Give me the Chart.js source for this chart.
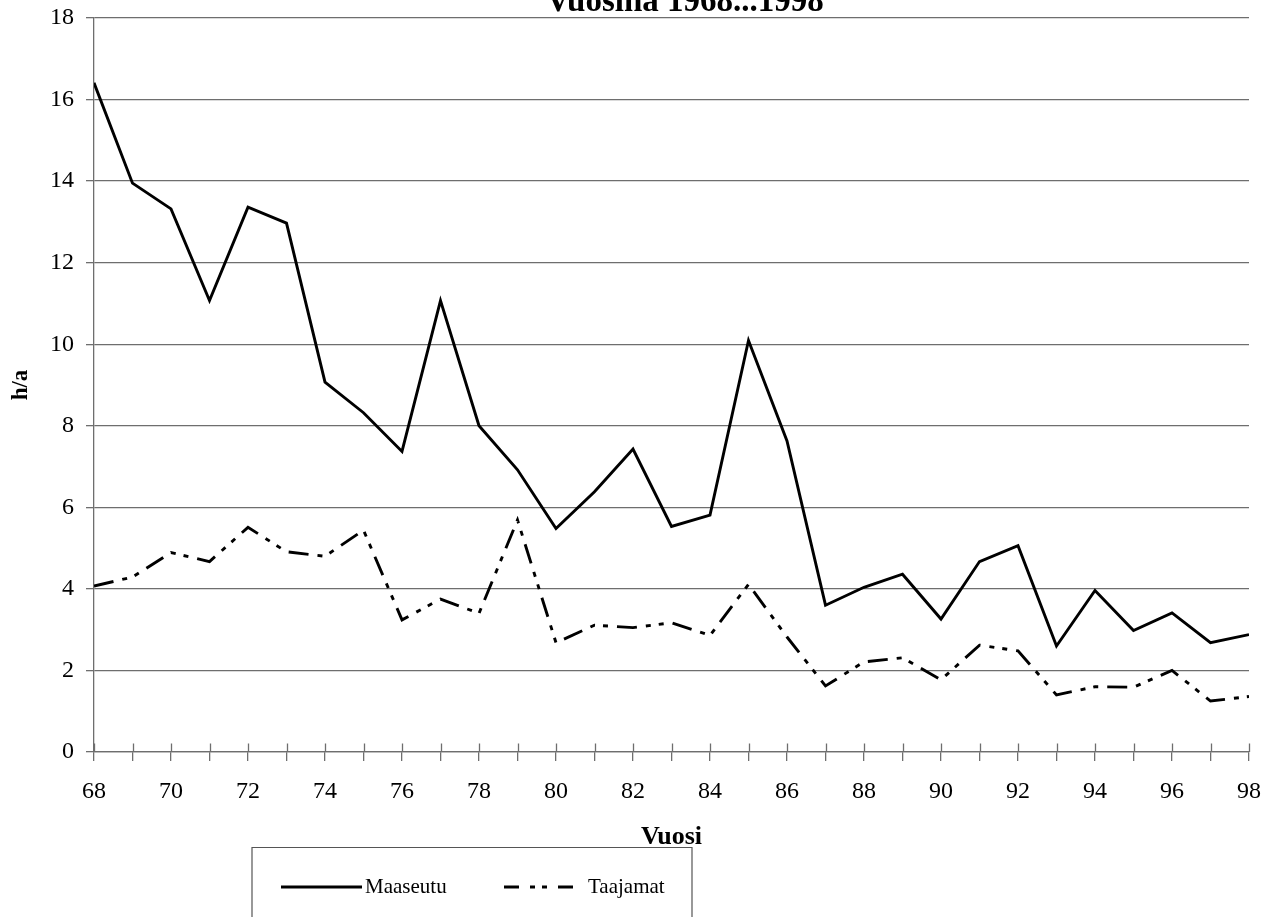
<!DOCTYPE html>
<html>
<head>
<meta charset="utf-8">
<title>Vuosina 1968...1998</title>
<script src="https://cdn.jsdelivr.net/npm/chart.js@4.4.1/dist/chart.umd.min.js"></script>
<style>
  html, body { margin: 0; padding: 0; background: #fff; overflow: hidden; }
  #myChart { display: block; }
</style>
</head>
<body>
<canvas id="myChart" width="1275" height="917"></canvas>
<script>
// years 1968..1998, shown as two digits
const years = [68, 69, 70, 71, 72, 73, 74, 75, 76, 77, 78, 79, 80, 81, 82, 83,
               84, 85, 86, 87, 88, 89, 90, 91, 92, 93, 94, 95, 96, 97, 98];
const maaseutu = [16.41, 13.95, 13.32, 11.07, 13.36, 12.97, 9.07, 8.32, 7.37, 11.07, 8.0,
                  6.92, 5.48, 6.38, 7.43, 5.53, 5.81, 10.09, 7.63, 3.6, 4.04, 4.36,
                  3.26, 4.67, 5.06, 2.6, 3.96, 2.98, 3.41, 2.68, 2.88];
const taajamat = [4.07, 4.29, 4.89, 4.67, 5.51, 4.91, 4.8, 5.44, 3.24, 3.75, 3.4,
                  5.69, 2.68, 3.11, 3.05, 3.17, 2.86, 4.11, 2.82, 1.62, 2.21, 2.31,
                  1.77, 2.62, 2.48, 1.4, 1.6, 1.59, 2.0, 1.25, 1.36];
const yTicks = [0, 2, 4, 6, 8, 10, 12, 14, 16, 18];

const FONT = "'Liberation Serif', 'Times New Roman', serif";
const GRID = '#6e6e6e';

// title, cut off at the top like in the original
const titlePlugin = {
    id: 'cutTitle',
    afterDraw(chart) {
        const ctx = chart.ctx;
        ctx.save();
        ctx.fillStyle = '#000';
        ctx.font = 'bold 33px ' + FONT;
        ctx.textAlign = 'center';
        ctx.textBaseline = 'alphabetic';
        ctx.fillText('Vuosina 1968...1998', 685, 11);
        ctx.restore();
    }
};

// x ticks cross the axis, draw the inner half
const innerTicks = {
    id: 'innerTicks',
    afterDraw(chart) {
        const ctx = chart.ctx;
        const x = chart.scales.x;
        const bottom = chart.chartArea.bottom;
        ctx.save();
        ctx.strokeStyle = GRID;
        ctx.lineWidth = 1.3;
        ctx.beginPath();
        x.ticks.forEach(t => {
            const px = Math.round(x.getPixelForValue(t.value)) + 0.5;
            ctx.moveTo(px, bottom);
            ctx.lineTo(px, bottom - 8.5);
        });
        ctx.stroke();
        ctx.restore();
    }
};

// boxed legend at the bottom, bottom edge outside the picture
const boxLegend = {
    id: 'boxLegend',
    afterDraw(chart) {
        const ctx = chart.ctx;
        const y = 887;
        ctx.save();
        ctx.strokeStyle = '#555';
        ctx.lineWidth = 1.2;
        ctx.beginPath();
        ctx.moveTo(252, 917);
        ctx.lineTo(252, 847.5);
        ctx.lineTo(692, 847.5);
        ctx.lineTo(692, 917);
        ctx.stroke();

        const items = [
            { ds: chart.data.datasets[0], x0: 281, x1: 362, tx: 365 },
            { ds: chart.data.datasets[1], x0: 504, x1: 580, tx: 588 }
        ];
        items.forEach(it => {
            ctx.strokeStyle = it.ds.borderColor;
            ctx.lineWidth = 3;
            ctx.setLineDash(it.ds.legendDash || []);
            ctx.beginPath();
            ctx.moveTo(it.x0, y);
            ctx.lineTo(it.x1, y);
            ctx.stroke();
            ctx.setLineDash([]);
            ctx.fillStyle = '#000';
            ctx.font = '21px ' + FONT;
            ctx.textAlign = 'left';
            ctx.textBaseline = 'middle';
            ctx.fillText(it.ds.label, it.tx, y);
        });
        ctx.restore();
    }
};

const ctx = document.getElementById('myChart');
const chart = new Chart(ctx.getContext('2d'), {
    type: 'line',
    data: {
        datasets: [{
            label: 'Maaseutu',
            data: years.map((v, i) => ({ x: v, y: maaseutu[i] })),
            borderColor: '#000',
            borderWidth: 2.9,
            pointRadius: 0,
            tension: 0,
            fill: false
        }, {
            label: 'Taajamat',
            data: years.map((v, i) => ({ x: v, y: taajamat[i] })),
            borderColor: '#000',
            borderWidth: 2.9,
            borderDash: [20, 9, 5, 8, 5, 9],
            legendDash: [15, 11, 5, 7, 5, 11],
            pointRadius: 0,
            tension: 0,
            fill: false
        }]
    },
    options: {
        responsive: false,
        animation: false,
        devicePixelRatio: 1,
        layout: {
            padding: { top: 18, right: 26, bottom: 64.4, left: 0 }
        },
        plugins: {
            legend: { display: false },
            title: { display: false },
            tooltip: { enabled: false }
        },
        scales: {
            x: {
                type: 'linear',
                min: years[0],
                max: years[years.length - 1],
                afterFit: s => {
                    s.height = 100.6;
                    s.paddingLeft = 0;
                    s.paddingRight = 0;
                },
                afterBuildTicks: s => { s.ticks = years.map(v => ({ value: v })); },
                ticks: {
                    autoSkip: false,
                    maxRotation: 0,
                    padding: 16,
                    color: '#000',
                    font: { family: FONT, size: 24 },
                    callback: v => (v % 2 === 0 ? String(v) : '')
                },
                grid: {
                    drawOnChartArea: false,
                    drawTicks: true,
                    tickLength: 9,
                    color: GRID,
                    lineWidth: 1.3
                },
                border: { color: GRID, width: 1.3 },
                title: {
                    display: true,
                    text: 'Vuosi',
                    color: '#000',
                    font: { family: FONT, size: 26, weight: 'bold' },
                    padding: { top: 0, bottom: 0 }
                }
            },
            y: {
                min: 0,
                max: 18,
                afterFit: s => {
                    s.width = 94;
                    s.paddingTop = 0;
                    s.paddingBottom = 0;
                },
                afterBuildTicks: s => { s.ticks = yTicks.map(v => ({ value: v })); },
                ticks: {
                    padding: 12,
                    color: '#000',
                    font: { family: FONT, size: 24 }
                },
                grid: {
                    drawTicks: true,
                    tickLength: 8,
                    color: GRID,
                    lineWidth: 1.3
                },
                border: { color: GRID, width: 1.3 },
                title: {
                    display: true,
                    text: 'h/a',
                    color: '#000',
                    font: { family: FONT, size: 23, weight: 'bold' },
                    padding: { top: 7, bottom: 0 }
                }
            }
        }
    },
    plugins: [titlePlugin, innerTicks, boxLegend]
});
</script>
</body>
</html>
